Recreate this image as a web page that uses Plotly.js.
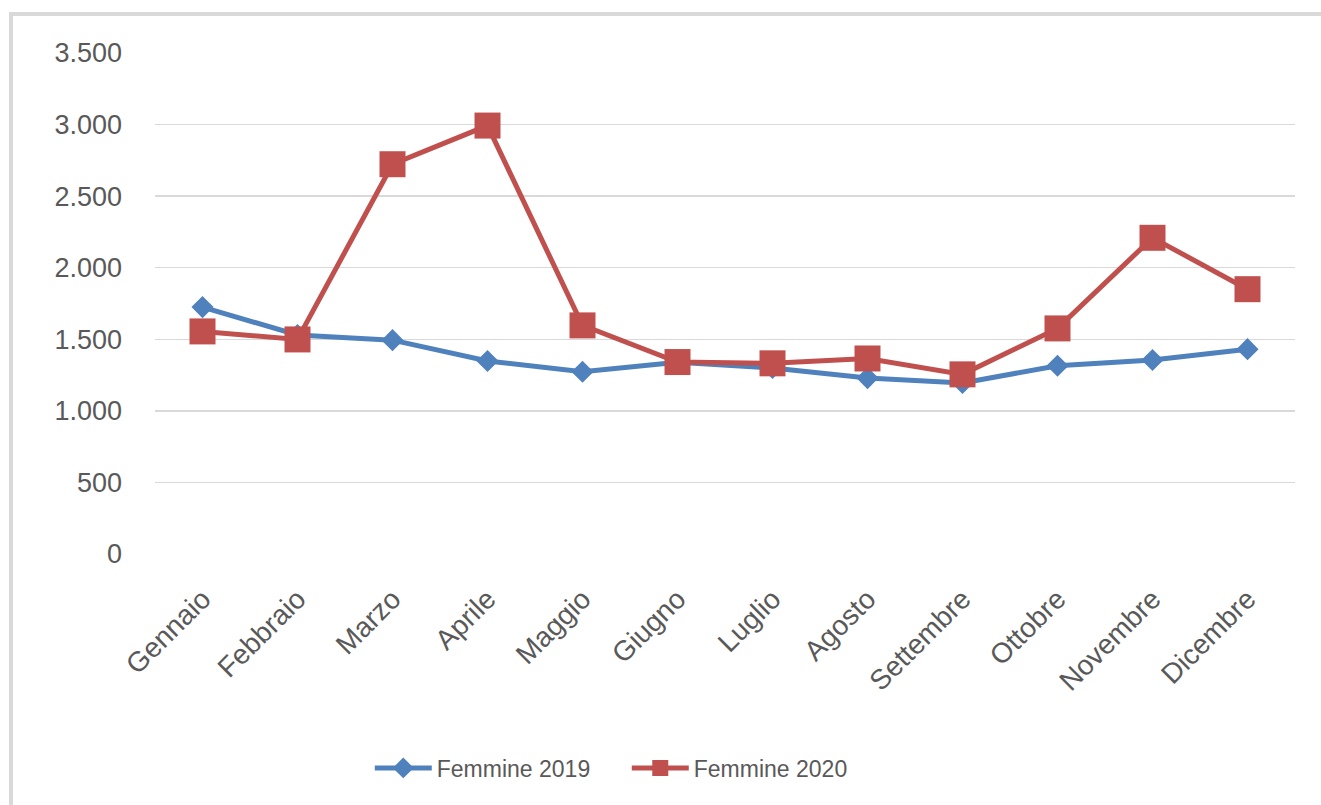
<!DOCTYPE html>
<html>
<head>
<meta charset="utf-8">
<script src="https://cdn.plot.ly/plotly-3.0.1.min.js"></script>
<style>
  html, body { margin: 0; padding: 0; background: #fff; overflow: hidden; }
  #chart { position: absolute; left: 0; top: 0; width: 1321px; height: 805px; }
  #frame { position: absolute; left: 9px; top: 12px; width: 1400px; height: 900px;
           border-left: 4px solid #d9d9d9; border-top: 4px solid #d9d9d9;
           pointer-events: none; z-index: 10; }
</style>
</head>
<body>
<div id="chart"></div>
<div id="frame"></div>
<script>
const months = ["Gennaio","Febbraio","Marzo","Aprile","Maggio","Giugno","Luglio","Agosto","Settembre","Ottobre","Novembre","Dicembre"];
const femmine2019 = [1725, 1530, 1494, 1348, 1273, 1340, 1300, 1229, 1195, 1315, 1355, 1431];
const femmine2020 = [1555, 1499, 2723, 2993, 1597, 1341, 1332, 1366, 1255, 1576, 2209, 1850];
const yTickVals = [0, 500, 1000, 1500, 2000, 2500, 3000, 3500];
const yTickText = ["0", "500", "1.000", "1.500", "2.000", "2.500", "3.000", "3.500"];

const textColor = "#595959";
const font = "Liberation Sans, Arial, sans-serif";

const traces = [
  {
    x: months, y: femmine2019, name: "Femmine 2019", type: "scatter", mode: "lines+markers",
    line: { color: "#4F81BD", width: 5 },
    marker: { symbol: "diamond", size: 17, color: "#4F81BD" }
  },
  {
    x: months, y: femmine2020, name: "Femmine 2020", type: "scatter", mode: "lines+markers",
    line: { color: "#C0504D", width: 5 },
    marker: { symbol: "square", size: 26, color: "#C0504D" }
  }
];

const layout = {
  width: 1321, height: 805,
  margin: { l: 155, r: 26, t: 53, b: 251 },
  paper_bgcolor: "#ffffff", plot_bgcolor: "#ffffff",
  font: { family: font, color: textColor, size: 24 },
  showlegend: true,
  legend: {
    orientation: "h", x: 0.1884, xanchor: "left", y: -0.427, yanchor: "middle",
    font: { family: font, size: 23, color: textColor },
    itemwidth: 57, entrywidth: 185
  },
  xaxis: {
    type: "category",
    range: [-0.5, months.length - 0.5],
    tickangle: -45,
    showgrid: false, zeroline: false, showline: false,
    ticks: "", ticklabelstandoff: 22,
    tickfont: { family: font, size: 28, color: textColor }
  },
  yaxis: {
    range: [0, 3500],
    tickvals: yTickVals, ticktext: yTickText,
    showgrid: true, gridcolor: "#d9d9d9", gridwidth: 1.5,
    zeroline: false, showline: false,
    ticks: "", ticklabelstandoff: 32,
    tickfont: { family: font, size: 27, color: textColor }
  }
};

Plotly.newPlot("chart", traces, layout, { displayModeBar: false, staticPlot: true });
</script>
</body>
</html>
